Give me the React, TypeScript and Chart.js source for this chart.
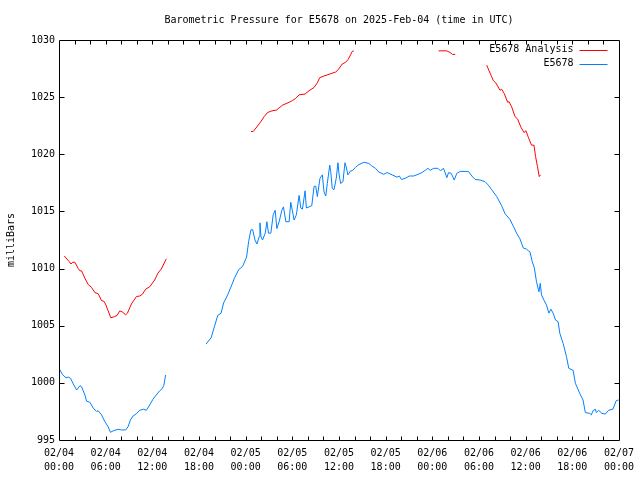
import React, { useEffect, useRef } from "react";
import { Chart, registerables } from "chart.js";

Chart.register(...registerables);

const TITLE = "Barometric Pressure for E5678 on 2025-Feb-04 (time in UTC)";
const Y_LABEL = "milliBars";
const SERIES_NAMES = ["E5678 Analysis", "E5678"];
const SERIES_COLORS = ["#ff0000", "#0080ff"];
const DATE_LABELS = ["02/04", "02/04", "02/04", "02/04", "02/05", "02/05", "02/05", "02/05", "02/06", "02/06", "02/06", "02/06", "02/07"];
const TIME_LABELS = ["00:00", "06:00", "12:00", "18:00", "00:00", "06:00", "12:00", "18:00", "00:00", "06:00", "12:00", "18:00", "00:00"];
const Y_MIN = 995;
const Y_MAX = 1030;

// hours since 02/04 00:00 UTC; null breaks the line
const analysisHours = [
  0.68, 1.32, 1.54, 1.75, 2.05, 2.48, 2.69, 2.9, 3.33, 3.76, 4.19, 4.61, 5.04, 5.47, 5.76, 5.98, 6.32, 6.66, 7.17, 7.47, 7.81, 8.16, 8.58, 8.8, 9.31, 9.95, 10.38, 10.72, 11.15, 11.66, 12.3, 12.72, 13.15, 13.8,
  16,
  24.68, 24.98, 25.33, 25.84, 26.39, 26.81, 27.38, 27.97, 28.74, 29.59, 30.02, 30.45, 30.87, 31.64, 32.15, 32.8, 33.22, 33.52, 34.08, 34.72, 35.58, 35.9, 36.42, 36.85, 37.18, 37.49, 37.7, 37.92,
  43,
  48.81, 49.87, 50.3, 50.6, 50.95,
  53,
  55.0, 55.3, 55.64, 55.86, 56.15, 56.71, 56.92, 57.26, 57.69, 57.87, 58.2, 58.63, 58.97, 59.4, 59.79, 60.04, 60.34, 60.76, 61.07, 61.28, 61.53, 61.75, 61.92,
];
const analysisValues = [
  1011.1, 1010.6, 1010.4, 1010.55, 1010.55, 1010.0, 1009.8, 1009.8, 1009.15, 1008.6, 1008.35, 1007.9, 1007.8, 1007.2, 1007.15, 1006.9, 1006.3, 1005.7, 1005.8, 1005.9, 1006.3, 1006.2, 1005.95, 1006.1, 1006.9, 1007.55, 1007.6, 1007.75, 1008.2, 1008.4, 1009.0, 1009.6, 1009.96, 1010.85,
  null,
  1022.0, 1022.0, 1022.3, 1022.75, 1023.3, 1023.65, 1023.8, 1023.87, 1024.3, 1024.55, 1024.7, 1024.9, 1025.2, 1025.27, 1025.56, 1025.85, 1026.26, 1026.7, 1026.85, 1027.0, 1027.2, 1027.4, 1027.9, 1028.05, 1028.3, 1028.7, 1029.0, 1029.05,
  null,
  1029.05, 1029.05, 1028.9, 1028.74, 1028.74,
  null,
  1027.8, 1027.3, 1026.78, 1026.43, 1026.26, 1025.6, 1025.7, 1025.3, 1024.55, 1024.6, 1024.16, 1023.3, 1023.08, 1022.36, 1021.9, 1022.06, 1021.5, 1020.8, 1020.8, 1019.8, 1018.9, 1018.05, 1018.2,
];

const stationHours = [
  0, 0.47, 0.9, 1.2, 1.49, 1.84, 2.27, 2.69, 2.9, 3.33, 3.54, 3.97, 4.4, 4.82, 5.04, 5.47, 5.9, 6.32, 6.62, 6.96, 7.6, 8.03, 8.58, 8.88, 9.18, 9.52, 9.95, 10.38, 10.89, 11.23, 11.66, 12.08, 12.5, 12.94, 13.28, 13.49, 13.71,
  16,
  18.92, 19.56, 19.98, 20.41, 20.84, 21.17, 21.69, 22.12, 22.55, 23.1, 23.61, 24.12, 24.38, 24.68, 24.9,
  25.2, 25.45, 25.75, 25.84, 25.97, 26.17, 26.52, 26.73, 26.94, 27.24, 27.54, 27.8, 28.01, 28.31, 28.65, 28.86, 29.17, 29.59, 29.8, 30.0, 30.23, 30.52, 30.87, 31.09, 31.3, 31.64, 31.81, 32.15, 32.5, 32.8, 33.01, 33.22, 33.56, 33.86, 34.08, 34.3, 34.5, 34.81, 34.94, 35.14, 35.36, 35.65, 35.87, 36.0, 36.21, 36.51, 36.77, 36.93, 37.15, 37.49, 37.7, 38.13, 38.56, 39.2, 39.84, 40.19, 40.7, 41.12, 41.76, 42.19, 42.83, 43.47, 43.77, 44.03, 44.54, 45.06, 45.6, 46.25, 46.67, 47.1, 47.43, 47.74, 48.17, 48.72, 49.03, 49.45, 49.87, 50.09, 50.43, 50.82, 51.15, 51.59, 52.23, 52.65,
  53.08, 53.5, 54.15, 54.79, 55.21, 55.64, 56.28, 56.92, 57.35, 57.99, 58.42, 58.84, 59.27, 59.7, 60.12, 60.34, 60.55, 60.85, 61.11, 61.4, 61.71, 61.88, 62.04, 62.35, 62.69, 62.99, 63.25, 63.54, 63.84, 64.18, 64.4, 64.82, 65.25, 65.55, 66.1, 66.4, 66.96, 67.38, 67.68, 68.24, 68.45, 68.66, 68.96, 69.09, 69.39, 69.81, 70.24, 70.68, 71.23, 71.65, 71.96,
];
const stationValues = [
  1001.27, 1000.7, 1000.45, 1000.5, 1000.4, 999.9, 999.37, 999.75, 999.66, 998.94, 998.4, 998.3, 997.8, 997.5, 997.56, 997.2, 996.6, 996.16, 995.67, 995.8, 995.94, 995.88, 995.88, 996.16, 996.75, 997.1, 997.3, 997.6, 997.7, 997.6, 998.06, 998.56, 998.94, 999.3, 999.5, 999.8, 1000.7,
  null,
  1003.4, 1003.95, 1004.9, 1005.9, 1006.1, 1007.0, 1007.7, 1008.4, 1009.15, 1009.9, 1010.2, 1011.0, 1012.35, 1013.4, 1013.4,
  1012.5, 1012.15, 1012.8, 1014.0, 1012.8, 1012.5, 1013.1, 1014.1, 1013.1, 1013.1, 1014.7, 1015.1, 1013.5, 1014.1, 1015.1, 1015.4, 1014.1, 1014.1, 1015.8, 1015.1, 1014.25, 1014.7, 1016.4, 1015.3, 1015.2, 1016.8, 1015.3, 1015.4, 1015.5, 1017.2, 1017.2, 1016.3, 1017.9, 1018.2, 1016.7, 1016.35, 1017.45, 1019.05, 1018.5, 1017.0, 1016.9, 1017.9, 1019.26, 1018.3, 1017.45, 1017.6, 1019.26, 1018.9, 1018.2, 1018.55, 1018.55, 1018.86, 1019.1, 1019.3, 1019.2, 1019.0, 1018.77, 1018.45, 1018.25, 1018.4, 1018.2, 1018.0, 1018.1, 1017.8, 1017.9, 1018.1, 1018.1, 1018.27, 1018.4, 1018.6, 1018.77, 1018.6, 1018.77, 1018.77, 1018.56, 1018.77, 1017.95, 1018.4, 1018.33, 1017.75, 1018.33, 1018.5, 1018.5, 1018.5,
  1018.1, 1017.8, 1017.75, 1017.6, 1017.3, 1016.9, 1016.3, 1015.5, 1014.8, 1014.3, 1013.7, 1013.1, 1012.6, 1011.8, 1011.7, 1011.56, 1011.48, 1010.6, 1010.1, 1008.85, 1007.97, 1008.7, 1007.7, 1007.25, 1006.8, 1006.1, 1006.44, 1006.1, 1005.5, 1005.35, 1004.33, 1003.46, 1002.3, 1001.27, 1001.1, 999.96, 999.08, 998.5, 997.4, 997.33, 997.2, 997.56, 997.7, 997.4, 997.6, 997.33, 997.27, 997.6, 997.7, 998.44, 998.5,
];

const FONT = "'DejaVu Sans Mono', 'Liberation Mono', monospace";

const toPoints = (xs: number[], ys: (number | null)[]) => xs.map((x, i) => ({ x, y: ys[i] }));

const framePlugin = {
  id: "frame",
  afterDatasetsDraw(chart: any) {
    const { ctx, chartArea } = chart;
    const xs = chart.scales.x;
    const ys = chart.scales.y;
    const L = Math.round(chartArea.left) + 0.5;
    const R = Math.round(chartArea.right) + 0.5;
    const T = Math.round(chartArea.top) + 0.5;
    const B = Math.round(chartArea.bottom) + 0.5;
    ctx.save();
    ctx.strokeStyle = "#000";
    ctx.lineWidth = 1;
    ctx.beginPath();
    ctx.rect(L, T, R - L, B - T);
    // x ticks every 2 hours, top and bottom, inward
    for (let h = 2; h < 72; h += 2) {
      const px = Math.round(xs.getPixelForValue(h)) + 0.5;
      ctx.moveTo(px, B);
      ctx.lineTo(px, B - 4);
      ctx.moveTo(px, T);
      ctx.lineTo(px, T + 4);
    }
    for (let v = Y_MIN + 5; v < Y_MAX; v += 5) {
      const py = Math.round(ys.getPixelForValue(v)) + 0.5;
      ctx.moveTo(L, py);
      ctx.lineTo(L + 5, py);
      ctx.moveTo(R, py);
      ctx.lineTo(R - 5, py);
    }
    ctx.stroke();

    // legend
    ctx.font = "10px " + FONT;
    ctx.fillStyle = "#000";
    ctx.textAlign = "right";
    ctx.textBaseline = "middle";
    const textRight = R - 46;
    const lineL = R - 40;
    const lineR = R - 12;
    SERIES_NAMES.forEach((name, i) => {
      const y = T + 9 + i * 14;
      ctx.fillText(name, textRight, y);
      ctx.strokeStyle = SERIES_COLORS[i];
      ctx.beginPath();
      ctx.moveTo(lineL, Math.round(y) + 0.5);
      ctx.lineTo(lineR, Math.round(y) + 0.5);
      ctx.stroke();
    });
    ctx.restore();
  },
};

export default function App() {
  const ref = useRef<HTMLCanvasElement | null>(null);
  useEffect(() => {
    if (!ref.current) return;
    const chart = new Chart(ref.current, {
      type: "line",
      data: {
        datasets: [
          {
            label: SERIES_NAMES[0],
            data: toPoints(analysisHours, analysisValues) as any,
            borderColor: SERIES_COLORS[0],
            borderWidth: 1,
            pointRadius: 0,
            tension: 0,
            spanGaps: false,
          },
          {
            label: SERIES_NAMES[1],
            data: toPoints(stationHours, stationValues) as any,
            borderColor: SERIES_COLORS[1],
            borderWidth: 1,
            pointRadius: 0,
            tension: 0,
            spanGaps: false,
          },
        ],
      },
      options: {
        responsive: false,
        animation: false,
        devicePixelRatio: 1,
        layout: { padding: { left: 0, right: 19, top: 0, bottom: 0 } },
        plugins: {
          legend: { display: false },
          tooltip: { enabled: false },
          title: {
            display: true,
            fullSize: false,
            text: TITLE,
            color: "#000",
            font: { family: FONT, size: 10, weight: "normal", lineHeight: 1.2 },
            padding: { top: 14, bottom: 14 },
          },
        },
        scales: {
          x: {
            type: "linear",
            min: 0,
            max: 72,
            grid: { display: false, drawTicks: false },
            border: { display: false },
            ticks: {
              stepSize: 6,
              autoSkip: false,
              maxRotation: 0,
              padding: 6,
              color: "#000",
              font: { family: FONT, size: 10, lineHeight: 1.4 },
              callback: (v: any) => {
                const i = Math.round(Number(v) / 6);
                return [DATE_LABELS[i], TIME_LABELS[i]];
              },
            },
            afterFit: (s: any) => {
              s.height = 40;
            },
          },
          y: {
            min: Y_MIN,
            max: Y_MAX,
            grid: { display: false, drawTicks: false },
            border: { display: false },
            ticks: {
              stepSize: 5,
              padding: 4,
              color: "#000",
              font: { family: FONT, size: 10 },
              callback: (v: any) => String(v),
            },
            title: {
              display: true,
              text: Y_LABEL,
              color: "#000",
              font: { family: FONT, size: 10, lineHeight: 1.2 },
              padding: { top: 5, bottom: 0 },
            },
            afterFit: (s: any) => {
              s.width = 59;
            },
          },
        },
      },
      plugins: [framePlugin],
    });
    return () => chart.destroy();
  }, []);
  return (
    <div style={{ position: "fixed", left: 0, top: 0, width: 640, height: 480, background: "#fff" }}>
      <canvas ref={ref} width={640} height={480} />
    </div>
  );
}
